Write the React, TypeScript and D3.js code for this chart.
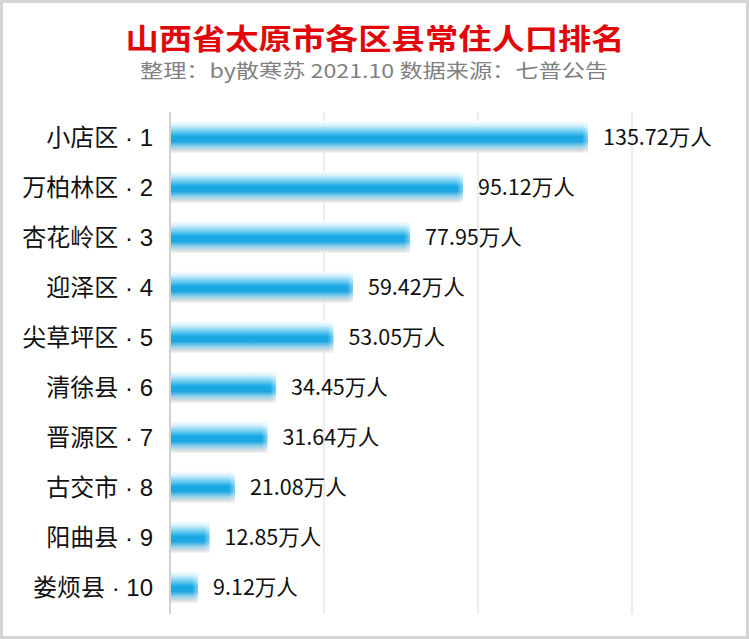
import React from "react";
import * as d3 from "d3";

const districts = ["小店区", "万柏林区", "杏花岭区", "迎泽区", "尖草坪区", "清徐县", "晋源区", "古交市", "阳曲县", "娄烦县"];
const population = [135.72, 95.12, 77.95, 59.42, 53.05, 34.45, 31.64, 21.08, 12.85, 9.12];
const gridTicks = [0, 50, 100, 150];
const titleText = "山西省太原市各区县常住人口排名";
const subtitleText = "整理：by散寒苏 2021.10 数据来源：七普公告";

const W = 749;
const H = 639;

export default function App() {
  const x = d3.scaleLinear().domain([0, 150]).range([170, 632]);
  const y = d3
    .scaleBand<string>()
    .domain(districts)
    .range([112, 612])
    .paddingInner(0.36)
    .paddingOuter(0.18);
  const bh = 32;
  const font = "'Noto Sans CJK SC', 'Microsoft YaHei', sans-serif";
  const labelFont = "'Liberation Sans', 'Noto Sans CJK SC', sans-serif";
  return (
    <svg
      width={W}
      height={H}
      style={{ position: "absolute", left: 0, top: 0, background: "#fff" }}
    >
      <defs>
        <linearGradient id="barGrad" x1="0" y1="0" x2="0" y2="1">
          <stop offset="0%" stopColor="#ffffff" />
          <stop offset="14%" stopColor="#d3f0fc" />
          <stop offset="32%" stopColor="#6fcdf1" />
          <stop offset="48%" stopColor="#18a8e5" />
          <stop offset="64%" stopColor="#1ea6e1" />
          <stop offset="80%" stopColor="#96d1ea" />
          <stop offset="92%" stopColor="#d8dde0" />
          <stop offset="100%" stopColor="#f4f5f6" />
        </linearGradient>
        <linearGradient id="endFade" x1="0" y1="0" x2="1" y2="0">
          <stop offset="0%" stopColor="#fff" stopOpacity="0" />
          <stop offset="100%" stopColor="#fff" stopOpacity="0.45" />
        </linearGradient>
      </defs>
      <rect x={0} y={0} width={W} height={H} fill="#fff" />
      <rect x={1.5} y={1.5} width={W - 3} height={H - 3} fill="none" stroke="#d4d4d4" strokeWidth={3} />

      <text
        x={375}
        y={50}
        textAnchor="middle"
        fontFamily={font}
        fontWeight="bold"
        fontSize={29}
        fill="#e0080b"
        textLength={499}
        lengthAdjust="spacingAndGlyphs"
      >
        {titleText}
      </text>
      <text
        x={374}
        y={78}
        textAnchor="middle"
        fontFamily={font}
        fontSize={19}
        fill="#808080"
        textLength={468}
        lengthAdjust="spacingAndGlyphs"
      >
        {subtitleText}
      </text>

      {gridTicks.map((t) => (
        <line
          key={t}
          x1={x(t)}
          x2={x(t)}
          y1={112}
          y2={614}
          stroke={t === 0 ? "#d0d0d0" : "#e6e6e6"}
          strokeWidth={t === 0 ? 2 : 1.5}
        />
      ))}

      {districts.map((d, i) => {
        const cy = (y(d) as number) + y.bandwidth() / 2;
        const v = population[i];
        return (
          <g key={d}>
            <rect x={x(0) + 1} y={cy - bh / 2} width={x(v) - x(0) - 1} height={bh} fill="url(#barGrad)" />
            <rect x={x(v) - 6} y={cy - bh / 2} width={6} height={bh} fill="url(#endFade)" />
            <text
              x={153}
              y={cy}
              dy="0.36em"
              textAnchor="end"
              fontFamily={labelFont}
              fontSize={24}
              fill="#111"
            >
              {`${d} · ${i + 1}`}
            </text>
            <text
              x={x(v) + 15}
              y={cy}
              dy="0.36em"
              fontFamily={font}
              fontSize={21.5}
              fill="#111"
            >
              {`${v.toFixed(2)}万人`}
            </text>
          </g>
        );
      })}
    </svg>
  );
}
